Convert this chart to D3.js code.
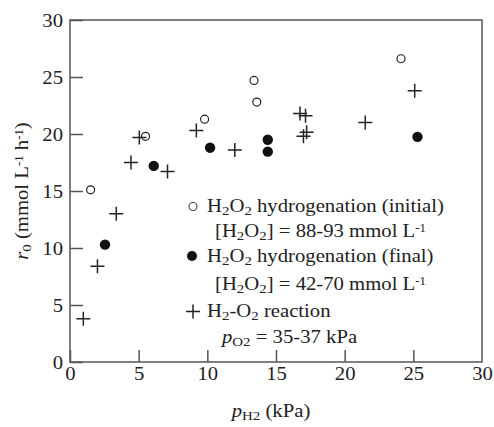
<!DOCTYPE html>
<meta charset="utf-8">
<svg width="494" height="427"></svg>
<script src="https://cdn.jsdelivr.net/npm/d3@7"></script>
<script>

// H2O2 hydrogenation, initial rate (open circles)
var initialX = [1.5, 5.5, 9.8, 13.4, 13.6, 24.1],
    initialY = [15.1, 19.8, 21.3, 24.7, 22.8, 26.6];

// H2O2 hydrogenation, final rate (filled circles)
var finalX = [2.55, 6.1, 10.2, 14.4, 14.4, 25.3],
    finalY = [10.3, 17.2, 18.8, 19.5, 18.45, 19.75];

// H2-O2 reaction (plus signs)
var reactionX = [0.97, 2.0, 3.37, 4.44, 5.05, 7.1, 9.2, 12.0, 16.75, 17.15, 17.0, 17.23, 21.5, 25.1],
    reactionY = [3.8, 8.4, 13.0, 17.5, 19.7, 16.7, 20.3, 18.6, 21.8, 21.6, 19.8, 20.15, 21.0, 23.8];

var xTicks = [0, 5, 10, 15, 20, 25, 30],
    yTicks = [0, 5, 10, 15, 20, 25, 30];

var FS = 18.5,      // font size
    SX = 1.12;      // the source figure is a bit wider than tall

d3.select("body").style("margin", "0");

var svg = d3.select("svg"),
    margin = {top: 20, right: 12, bottom: 65, left: 70},
    width = +svg.attr("width") - margin.left - margin.right,
    height = +svg.attr("height") - margin.top - margin.bottom,
    g = svg.append("g").attr("transform", "translate(" + margin.left + "," + margin.top + ")");

var x = d3.scaleLinear().domain([0, 30]).range([0, width]);
var y = d3.scaleLinear().domain([0, 30]).range([height, 0]);

var axisColor = "#555";

// frame
g.append("rect")
    .attr("width", width)
    .attr("height", height)
    .attr("fill", "none")
    .attr("stroke", axisColor)
    .attr("stroke-width", 1.5);

// inward ticks on left and bottom
var xAxis = g.append("g")
    .attr("transform", "translate(0," + height + ")")
    .call(d3.axisBottom(x).tickValues(xTicks).tickSizeInner(-12).tickSizeOuter(0).tickPadding(5));
var yAxis = g.append("g")
    .call(d3.axisLeft(y).tickValues(yTicks).tickSizeInner(-13).tickSizeOuter(0).tickPadding(0));

[xAxis, yAxis].forEach(function(a) {
  a.attr("font-family", "Liberation Serif").attr("font-size", FS);
  a.select(".domain").remove();
  a.selectAll("line").attr("stroke", axisColor).attr("stroke-width", 1.5);
  a.selectAll("text").attr("fill", "#222");
});
xAxis.selectAll("text").attr("transform", "scale(" + SX + ",1)");
yAxis.selectAll("text")
    .attr("x", 0)
    .attr("dy", "0.33em")
    .attr("transform", "translate(-7,0) scale(" + SX + ",1)");
xAxis.selectAll(".tick")
    .filter(function(d) { return d === 30; })
    .select("line").remove();

// rich text: segments of [text, style], style is "sub", "sup", "i" or ""
function rich(parent, px, py, parts, rotate) {
  var sel = parent.append("text")
      .attr("transform", "translate(" + px + "," + py + ")" + (rotate ? " rotate(-90)" : "") + " scale(" + SX + ",1)")
      .attr("font-family", "Liberation Serif")
      .attr("font-size", FS)
      .attr("fill", "#222");
  parts.forEach(function(p) {
    var t = sel.append("tspan").text(p[0]);
    if (p[1] === "sub") t.attr("font-size", FS * 0.72).attr("baseline-shift", "-22%");
    else if (p[1] === "sup") t.attr("font-size", FS * 0.62).attr("baseline-shift", "45%");
    else if (p[1] === "i") t.attr("font-style", "italic");
  });
  return sel;
}

// axis titles
rich(svg, 271, 417, [["p", "i"], ["H2", "sub"], [" (kPa)", ""]])
    .attr("text-anchor", "middle");

rich(svg, 28, 191, [["r", "i"], ["0", "sub"], [" (mmol L", ""], ["-1", "sup"], [" h", ""], ["-1", "sup"], [")", ""]], true)
    .attr("text-anchor", "middle");

// markers
function plus(sel, size) {
  sel.append("path")
      .attr("d", "M" + (-size) + ",0H" + size + "M0," + (-size) + "V" + size)
      .attr("stroke", "#222")
      .attr("stroke-width", 1.5)
      .attr("fill", "none");
}

g.selectAll(".initial")
  .data(d3.zip(initialX, initialY))
  .enter().append("circle")
    .attr("class", "initial")
    .attr("cx", function(d) { return x(d[0]); })
    .attr("cy", function(d) { return y(d[1]); })
    .attr("r", 4)
    .attr("fill", "#fff")
    .attr("stroke", "#222")
    .attr("stroke-width", 1.2);

g.selectAll(".final")
  .data(d3.zip(finalX, finalY))
  .enter().append("circle")
    .attr("class", "final")
    .attr("cx", function(d) { return x(d[0]); })
    .attr("cy", function(d) { return y(d[1]); })
    .attr("r", 5.2)
    .attr("fill", "#111");

g.selectAll(".reaction")
  .data(d3.zip(reactionX, reactionY))
  .enter().append("g")
    .attr("class", "reaction")
    .attr("transform", function(d) { return "translate(" + x(d[0]) + "," + y(d[1]) + ")"; })
    .each(function() { plus(d3.select(this), 7); });

// legend
var legend = svg.append("g");

legend.append("circle").attr("cx", 193).attr("cy", 206.5).attr("r", 4)
    .attr("fill", "#fff").attr("stroke", "#444").attr("stroke-width", 1.1);
rich(legend, 207, 212, [["H", ""], ["2", "sub"], ["O", ""], ["2", "sub"], [" hydrogenation (initial)", ""]]);
rich(legend, 215, 237, [["[H", ""], ["2", "sub"], ["O", ""], ["2", "sub"], ["] = 88-93 mmol L", ""], ["-1", "sup"]]);

legend.append("circle").attr("cx", 192).attr("cy", 256).attr("r", 5)
    .attr("fill", "#111");
rich(legend, 207, 262, [["H", ""], ["2", "sub"], ["O", ""], ["2", "sub"], [" hydrogenation (final)", ""]]);
rich(legend, 215, 290, [["[H", ""], ["2", "sub"], ["O", ""], ["2", "sub"], ["] = 42-70 mmol L", ""], ["-1", "sup"]]);

plus(legend.append("g").attr("transform", "translate(193,311.5)"), 7);
rich(legend, 207, 317, [["H", ""], ["2", "sub"], ["-O", ""], ["2", "sub"], [" reaction", ""]]);
rich(legend, 222, 343, [["p", "i"], ["O2", "sub"], [" = 35-37 kPa", ""]]);

</script>
